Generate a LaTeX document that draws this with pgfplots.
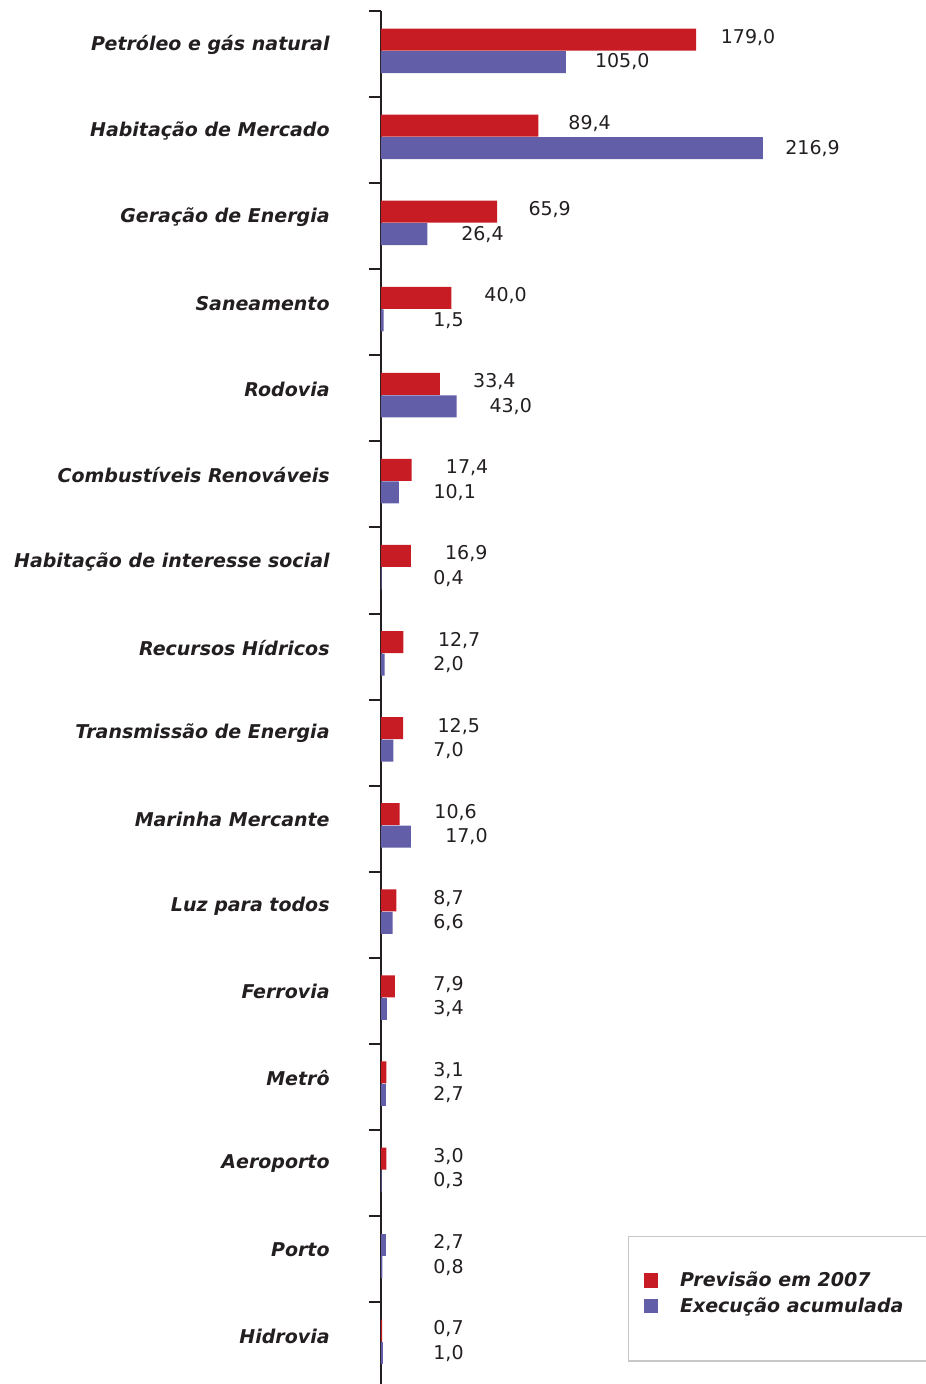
\documentclass[border=0pt]{standalone}
\usepackage{fontspec}
\setmainfont{DejaVu Sans}
\usepackage{pgfplots}
\pgfplotsset{compat=1.18}
\definecolor{prev}{RGB}{200,28,36}
\definecolor{exec}{RGB}{98,94,168}
\definecolor{ink}{RGB}{35,31,32}
\definecolor{boxgray}{RGB}{200,200,200}
\begin{document}
\begin{tikzpicture}
\begin{axis}[
    name=ax,
    scale only axis,
    width=272pt, height=688.6pt,
    xbar, bar width=11pt,
    xmin=0, xmax=308.9,
    ymin=-0.5, ymax=15.5,
    y dir=reverse,
    axis x line=none,
    axis y line*=left,
    y axis line style={line width=1.3pt, color=ink},
    ytick={0,...,15},
    yticklabels={Petróleo e gás natural, Habitação de Mercado, Geração de Energia,
        Saneamento, Rodovia, Combustíveis Renováveis, Habitação de interesse social,
        Recursos Hídricos, Transmissão de Energia, Marinha Mercante, Luz para todos,
        Ferrovia, Metrô, Aeroporto, Porto, Hidrovia},
    major tick length=0pt,
    minor ytick={-0.5,0.5,...,14.5},
    minor tick length=6pt,
    tick align=outside,
    minor tick style={line width=1pt, color=ink},
    yticklabel style={font=\bfseries\itshape\fontsize{9.5}{12}\selectfont, text=ink,
        anchor=east, inner sep=0pt, xshift=-25.5pt, yshift=4.5pt},
    visualization depends on={rawx \as \rawx},
    nodes near coords={\pgfmathprintnumber[fixed,fixed zerofill,precision=1,use comma,assume math mode=true]{\pgfplotspointmeta}},
    every node near coord/.append style={font=\fontsize{9.5}{12}\selectfont, text=ink,
        inner sep=0pt, anchor=west, xshift={max(26-0.8805*\rawx,17.5-0.03*\rawx)}},
    legend style={at={(axis cs:140.3,13.73)}, anchor=north west, draw=boxgray, line width=0.6pt,
        inner xsep=7.5pt, inner ysep=15.5pt, font=\bfseries\itshape\fontsize{9.5}{13}\selectfont,
        text=ink, row sep=0pt, cells={anchor=west}},
    legend image code/.code={\fill[#1] (0pt,-3.6pt) rectangle (7.2pt,3.6pt); \path (16.2pt,0pt);},
]
\addplot[fill=prev, draw=none, bar shift=7.25pt,
    every node near coord/.append style={yshift=1pt}] coordinates {
    (179.0,0) (89.4,1) (65.9,2) (40.0,3) (33.4,4) (17.4,5) (16.9,6) (12.7,7)
    (12.5,8) (10.6,9) (8.7,10) (7.9,11) (3.1,12) (3.0,13) (0.7,15)};
\addlegendentry{\makebox[130pt][l]{Previsão em 2007}}
\addplot[fill=exec, draw=none, bar shift=-4pt] coordinates {
    (105.0,0) (216.9,1) (26.4,2) (1.5,3) (43.0,4) (10.1,5) (0.4,6) (2.0,7)
    (7.0,8) (17.0,9) (6.6,10) (3.4,11) (2.7,12) (0.3,13) (0.8,14) (1.0,15)};
\addlegendentry{\makebox[130pt][l]{Execução acumulada}}
\addlegendimage{empty legend}
\addlegendentry{}
% Porto: the 2,7 bar is coloured like the second series in the original
\addplot[fill=exec, draw=none, bar shift=7.25pt, forget plot,
    every node near coord/.append style={yshift=1pt}] coordinates {(2.7,14)};
\end{axis}
\pgfresetboundingbox
\path[use as bounding box] ([xshift=-190.5pt,yshift=5.5pt]ax.north west)
    rectangle ([xshift=272pt,yshift=-686.5pt]ax.north west);
\end{tikzpicture}
\end{document}
